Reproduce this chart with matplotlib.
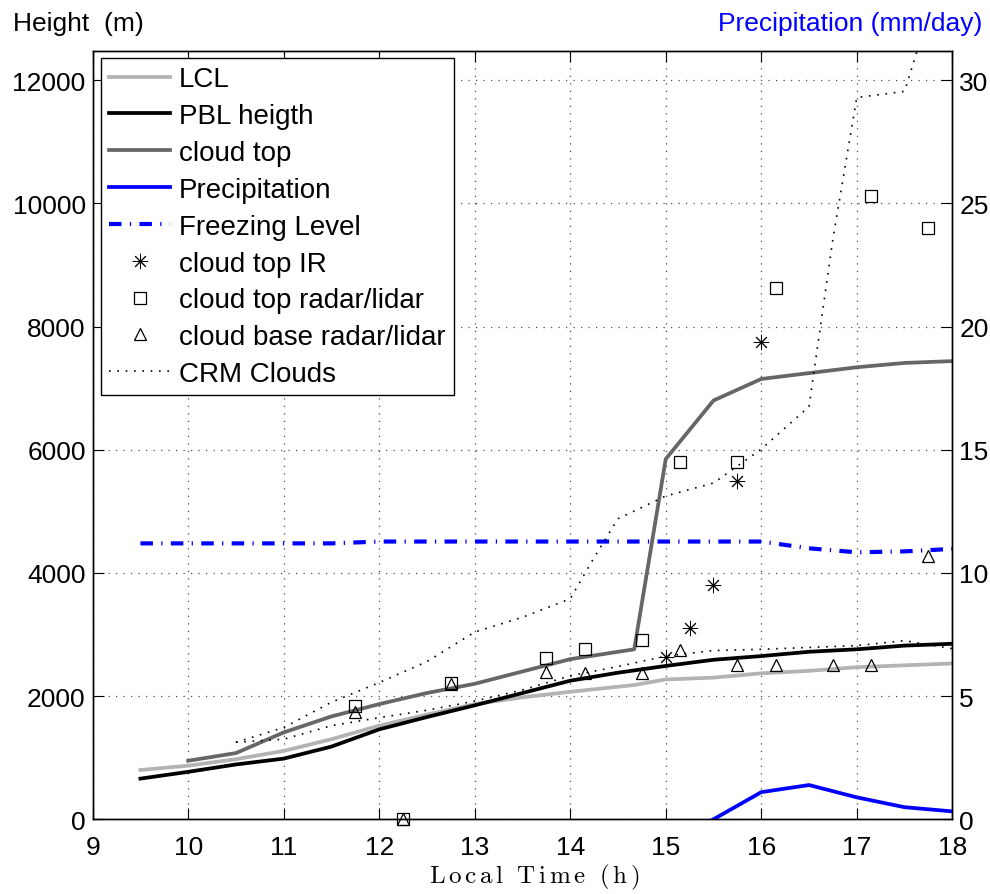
import matplotlib
matplotlib.use("Agg")
import matplotlib.pyplot as plt

plt.rcParams['font.family'] = ['Liberation Sans', 'DejaVu Sans']
plt.rcParams['mathtext.fontset'] = 'cm'

# data
t_lcl = [9.5, 10, 10.5, 11, 11.5, 12, 12.5, 13, 13.5, 14, 14.67, 15, 15.5, 16, 16.5, 17, 17.5, 18]
lcl = [800, 870, 975, 1110, 1300, 1520, 1700, 1870, 1980, 2070, 2180, 2270, 2300, 2370, 2410, 2470, 2500, 2530]

t_pbl = [9.5, 10, 10.5, 11, 11.5, 12, 12.5, 13, 13.5, 14, 14.5, 15, 15.5, 16, 16.5, 17, 17.5, 18]
pbl = [660, 770, 890, 985, 1180, 1460, 1660, 1850, 2050, 2250, 2380, 2490, 2590, 2650, 2720, 2760, 2820, 2850]

t_ctop = [10, 10.5, 11, 11.5, 12, 12.5, 13, 13.5, 14, 14.67, 15, 15.5, 16, 17, 17.5, 18]
ctop = [950, 1075, 1410, 1670, 1870, 2050, 2200, 2400, 2600, 2760, 5850, 6800, 7150, 7340, 7410, 7440]

t_prec = [15.5, 16, 16.5, 17, 17.5, 18]
prec = [0, 1.10, 1.39, 0.89, 0.49, 0.32]

t_frz = [9.5, 10, 10.5, 11, 11.5, 12, 12.5, 13, 13.5, 14, 14.5, 15, 15.5, 16, 16.5, 17, 17.5, 18]
frz = [4480, 4480, 4480, 4480, 4480, 4510, 4510, 4510, 4510, 4510, 4510, 4510, 4510, 4510, 4400, 4335, 4350, 4390]

t_ir = [15.0, 15.25, 15.5, 15.75, 16.0]
ir = [2630, 3100, 3800, 5500, 7750]

t_rtop = [11.75, 12.25, 12.75, 13.75, 14.15, 14.75, 15.15, 15.75, 16.15, 17.15, 17.75]
rtop = [1840, 0, 2210, 2620, 2760, 2910, 5800, 5800, 8620, 10120, 9600]

t_rbase = [11.75, 12.25, 12.75, 13.75, 14.15, 14.75, 15.15, 15.75, 16.15, 16.75, 17.15, 17.75]
rbase = [1740, 0, 2200, 2390, 2370, 2370, 2750, 2510, 2510, 2510, 2510, 4270]

t_crm_top = [10.5, 11, 11.5, 12, 12.5, 13, 13.5, 14, 14.25, 14.5, 15, 15.5, 16, 16.5, 16.75, 17, 17.5, 18]
crm_top = [1250, 1490, 1900, 2220, 2560, 3040, 3280, 3580, 4250, 4880, 5250, 5460, 6010, 6700, 9420, 11720, 11820, 14300]

t_crm_base = [10.5, 11, 11.5, 12, 12.5, 13, 13.5, 14, 14.5, 15, 15.5, 16, 16.5, 17, 17.5, 18]
crm_base = [1250, 1300, 1520, 1650, 1770, 1920, 2100, 2330, 2480, 2650, 2740, 2760, 2790, 2820, 2900, 2770]

FS = 19

fig = plt.figure(figsize=(9.9, 8.95), dpi=100)
ax = fig.add_axes([0.0936, 0.0835, 0.8683, 0.8587])
ax2 = ax.twinx()

ymax = 12480
ax.set_xlim(9, 18)
ax.set_ylim(0, ymax)
ax2.set_ylim(0, ymax / 400.0)

ax.grid(True, color='0.3', linestyle=(0, (1, 5)), linewidth=0.9)

dots = (0, (1, 4))
h_lcl, = ax.plot(t_lcl, lcl, color='0.7', lw=2.7, label='LCL')
h_pbl, = ax.plot(t_pbl, pbl, color='k', lw=2.7, label='PBL heigth')
h_ctop, = ax.plot(t_ctop, ctop, color='0.4', lw=2.7, label='cloud top')
h_prec, = ax2.plot(t_prec, prec, color='#0000ff', lw=2.7, label='Precipitation')
h_frz, = ax.plot(t_frz, frz, color='#0000ff', lw=3.0, dashes=(3.0, 2.0, 0.3, 2.0),
                 label='Freezing Level')
h_crm, = ax.plot(t_crm_top, crm_top, color='k', lw=1.2, linestyle=dots, label='CRM Clouds')
ax.plot(t_crm_base, crm_base, color='k', lw=1.2, linestyle=dots)
h_ir, = ax.plot(t_ir, ir, linestyle='none', marker=(8, 2, 0), ms=11, mec='k', mew=0.7,
                label='cloud top IR')
h_rtop, = ax.plot(t_rtop, rtop, linestyle='none', marker='s', ms=9, mfc='none', mec='k',
                  mew=0.9, label='cloud top radar/lidar', clip_on=False)
h_rbase, = ax.plot(t_rbase, rbase, linestyle='none', marker='^', ms=9, mfc='none', mec='k',
                   mew=0.9, label='cloud base radar/lidar', clip_on=False)

ax.set_xticks(range(9, 19))
ax.set_yticks(range(0, 12001, 2000))
ax2.set_yticks(range(0, 31, 5))

for a in (ax, ax2):
    a.tick_params(direction='in', length=8, width=0.8, labelsize=FS)
ax.tick_params(axis='x', top=True, pad=11)
ax.tick_params(axis='y', right=False, pad=5)
ax2.tick_params(axis='y', pad=5)
for a in (ax, ax2):
    for s in a.spines.values():
        s.set_linewidth(1.0)

fig.text(0.013, 0.965, 'Height  (m)', fontsize=FS, ha='left', va='baseline')
fig.text(0.992, 0.965, 'Precipitation (mm/day)', fontsize=FS, ha='right', va='baseline',
         color='#0000ff')
fig.text(0.540, 0.0134,
         r'$\mathrm{L\,o\,c\,a\,l\ \ T\,i\,m\,e\ \ (\,h\,)}$',
         fontsize=18, ha='center', va='baseline')

handles = [h_lcl, h_pbl, h_ctop, h_prec, h_frz, h_ir, h_rtop, h_rbase, h_crm]
leg = ax2.legend(handles=handles, loc='upper left', bbox_to_anchor=(0.0097, 0.9905),
                 borderaxespad=0, fontsize=20, numpoints=1, fancybox=False,
                 framealpha=1, edgecolor='k', handlelength=2.2, handletextpad=0.3,
                 labelspacing=0.39, borderpad=0.3)
leg.get_frame().set_linewidth(1.0)

fig.savefig('out.png', dpi=100)
